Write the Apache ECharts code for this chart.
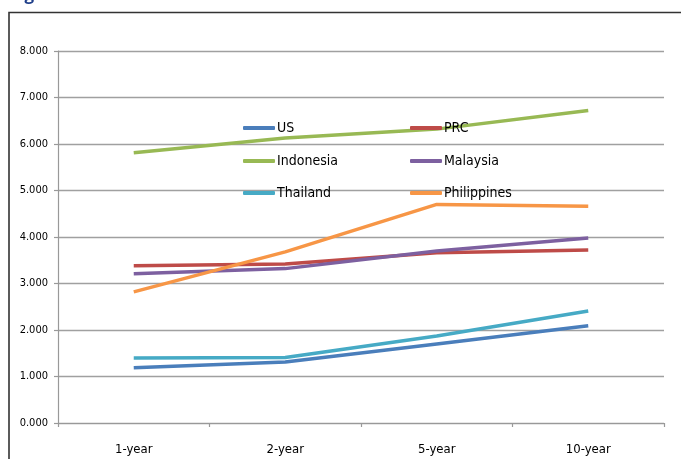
<!DOCTYPE html>
<html>
<head>
<meta charset="utf-8">
<script src="https://cdn.jsdelivr.net/npm/echarts@6/dist/echarts.min.js"></script>
<style>
  html, body { margin: 0; padding: 0; background: #fff; }
  #chart { width: 681px; height: 459px; }
</style>
</head>
<body>
<div id="chart"></div>
<script>
// Government bond yields by tenor (%)
const tenors = ['1-year', '2-year', '5-year', '10-year'];
const yTicks = [0, 1, 2, 3, 4, 5, 6, 7, 8];

const us          = [1.19, 1.31, 1.70, 2.09];
const prc         = [3.38, 3.42, 3.66, 3.72];
const indonesia   = [5.81, 6.13, 6.32, 6.72];
const malaysia    = [3.21, 3.32, 3.70, 3.98];
const thailand    = [1.40, 1.41, 1.87, 2.41];
const philippines = [2.82, 3.68, 4.70, 4.66];

const seriesNames = ['US', 'PRC', 'Indonesia', 'Malaysia', 'Thailand', 'Philippines'];
const seriesData  = [us, prc, indonesia, malaysia, thailand, philippines];
const colors = ['#4a7ebb', '#be4b48', '#98b954', '#7d60a0', '#46aac5', '#f79646'];

const narrow = "'Liberation Sans Narrow', 'DejaVu Sans Condensed', 'Open Sans', sans-serif";

// legend slots: two columns, three rows
const legendPos = [
  { left: 243, top: 121 }, { left: 410, top: 121 },
  { left: 243, top: 154 }, { left: 410, top: 154 },
  { left: 243, top: 186 }, { left: 410, top: 186 }
];

const chart = echarts.init(document.getElementById('chart'), null, { renderer: 'canvas' });

chart.setOption({
  animation: false,
  backgroundColor: '#fff',
  color: colors,
  grid: { left: 58, right: 17, top: 51, bottom: 36, containLabel: false },
  legend: seriesNames.map((name, i) => ({
    data: [name],
    left: legendPos[i].left,
    top: legendPos[i].top,
    padding: 0,
    itemWidth: 32,
    itemHeight: 4,
    icon: 'roundRect',
    selectedMode: false,
    textStyle: { fontFamily: narrow, fontSize: 14, color: '#000', padding: [0, 0, 0, -3] }
  })),
  xAxis: {
    type: 'category',
    data: tenors,
    boundaryGap: true,
    axisLine: { lineStyle: { color: '#999', width: 1.2 } },
    axisTick: { show: true, length: 4, lineStyle: { color: '#999', width: 1.2 } },
    axisLabel: { fontFamily: narrow, fontSize: 13, color: '#000', margin: 20 }
  },
  yAxis: {
    type: 'value',
    min: yTicks[0],
    max: yTicks[yTicks.length - 1],
    interval: 1,
    axisLine: { show: true, lineStyle: { color: '#999', width: 1.2 } },
    axisTick: { show: true, length: 4, lineStyle: { color: '#999', width: 1.2 } },
    axisLabel: {
      fontFamily: narrow, fontSize: 11, color: '#000', margin: 10,
      formatter: v => v.toFixed(3)
    },
    splitLine: { lineStyle: { color: '#a0a0a0', width: 1.4 } }
  },
  graphic: [
    {
      type: 'rect',
      shape: { x: 9, y: 12.5, width: 700, height: 480 },
      style: { fill: 'none', stroke: '#333', lineWidth: 1.6 },
      silent: true
    },
    {
      type: 'text',
      left: 10,
      top: -13,
      style: { text: 'Fig', fill: '#1f3f8a', font: "bold 17px 'Open Sans', sans-serif" },
      silent: true
    }
  ],
  series: seriesNames.map((name, i) => ({
    name: name,
    type: 'line',
    data: seriesData[i],
    symbol: 'none',
    smooth: false,
    lineStyle: { width: 3.5, color: colors[i] },
    itemStyle: { color: colors[i] }
  }))
});
</script>
</body>
</html>
